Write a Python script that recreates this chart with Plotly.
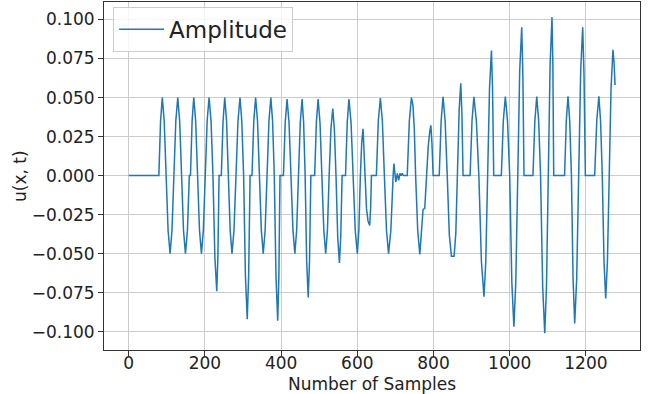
import plotly.graph_objects as go

# Points: sample index and amplitude u(x, t)
samples = [
    0, 79, 83.5, 88, 93, 98, 103.2, 108.5, 113.5, 118.5, 123.5, 128.6, 133.6, 138.7,
    143.7, 148.8, 154, 159, 162, 166.3, 170.6, 175.6, 180.7, 185.7, 190.8, 195.8,
    200.8, 205.8, 210.8, 216, 221, 226, 231, 234, 237, 243, 247.5, 252, 256.7,
    261.5, 266.2, 271, 276.2, 281.5, 286.7, 292, 296.7, 301.5, 306.2, 311, 314.7,
    318.5, 323.5, 328.2, 333, 338, 343, 348, 353, 358, 363, 368, 373, 377.5, 382,
    386.5, 391, 394, 397, 406, 410.7, 415.5, 420.7, 426, 431, 436, 440.7, 445.5,
    450.2, 455, 459, 463, 467, 471, 474.5, 478, 488, 492.5, 497, 502, 507, 512,
    517, 521.5, 526, 530.7, 535.5, 539.7, 544, 548.5, 553, 556.5, 560, 569, 573.5,
    578, 583.5, 589, 594.5, 600, 604, 608, 611.5, 615, 619.5, 624, 628, 632.5, 635,
    637, 650, 655, 660.5, 665.7, 671, 676.5, 682, 688, 694, 696, 701, 705, 708.5,
    712, 715, 718, 721, 731, 736.5, 742, 746, 749.5, 753, 758.5, 764, 768, 772.5,
    777, 781, 786, 790, 793, 796, 799, 815, 820, 825, 830.5, 836, 841.5, 847, 854,
    858.5, 863, 867.3, 871.5, 874.5, 877.5, 896, 901, 906, 912.5, 919, 925.7,
    932.5, 937.2, 942, 947, 952, 955, 958, 978, 983.2, 988.5, 994.2, 1000, 1005.5,
    1011, 1016, 1021, 1026.2, 1031.5, 1034.5, 1037.5, 1061, 1066, 1071, 1076, 1081,
    1086.5, 1092, 1096.5, 1101, 1106, 1111, 1113.3, 1115.5, 1144, 1148.5, 1153,
    1157.5, 1162, 1166.3, 1170.6, 1175.8, 1181, 1186.3, 1191.6, 1195, 1198.6, 1223,
    1228.5, 1234, 1238.5, 1243, 1247.5, 1252, 1256.5, 1261, 1266, 1271, 1274, 1276.5,
]
amplitude = [
    0, 0, 0.035, 0.05, 0.035, 0, -0.035, -0.05, -0.035, 0, 0.035, 0.05, 0.035, 0,
    -0.035, -0.05, -0.035, 0, 0, 0.035, 0.05, 0.035, 0, -0.035, -0.05, -0.035,
    0, 0.035, 0.05, 0.035, 0, -0.052, -0.074, -0.052, 0, 0, 0.035, 0.05, 0.035,
    0, -0.035, -0.05, -0.035, 0, 0.035, 0.05, 0.035, 0, -0.064, -0.092, -0.064,
    0, 0, 0.035, 0.05, 0.035, 0, -0.035, -0.05, -0.035, 0, 0.035, 0.05, 0.035, 0,
    -0.065, -0.093, -0.065, 0, 0, 0.034, 0.049, 0.034, 0, -0.035, -0.05, -0.035, 0,
    0.034, 0.049, 0.034, 0, -0.055, -0.078, -0.055, 0, 0, 0.034, 0.049, 0.034, 0, -0.035,
    -0.05, -0.035, 0, 0.03, 0.043, 0.03, 0, -0.039, -0.056, -0.039, 0, 0, 0.034,
    0.049, 0.034, 0, -0.035, -0.05, -0.035, 0, 0.021, 0.030, 0.008, -0.021, -0.029, -0.032, -0.02,
    0, 0, 0.035, 0.0496, 0.035, 0, -0.035, -0.050, -0.035, 0, 0.0077, -0.004, 0.0015, -0.003,
    0.0015, 0, 0.0015, 0, 0, 0.035, 0.05, 0.045, 0.03, 0, -0.035, -0.0505, -0.038, -0.0217,
    -0.021, -0.002, 0.0184, 0.028, 0.0322, 0.02, 0, 0, 0.035, 0.0505, 0.035, 0, -0.038, -0.0516, -0.0516,
    -0.037, 0, 0.042, 0.0592, 0.04, 0, 0, 0.035, 0.0505, 0.035, 0, -0.055,
    -0.0776, -0.055, 0, 0.056, 0.0801, 0.055, 0, 0, 0.035, 0.0506, 0.035, 0, -0.068,
    -0.0968, -0.068, 0, 0.067, 0.095, 0.065, 0, 0, 0.035, 0.0507, 0.035, 0,
    -0.071, -0.101, -0.071, 0, 0.071, 0.1015, 0.07, 0, 0, 0.035, 0.0508,
    0.035, 0, -0.066, -0.0947, -0.066, 0, 0.067, 0.095, 0.065, 0, 0,
    0.035, 0.0508, 0.035, 0, -0.055, -0.0787, -0.055, 0, 0.056, 0.0806, 0.072, 0.058,
]
assert len(samples) == len(amplitude)

x_ticks = [0, 200, 400, 600, 800, 1000, 1200]
y_ticks = [-0.1, -0.075, -0.05, -0.025, 0.0, 0.025, 0.05, 0.075, 0.1]

fig = go.Figure()
fig.add_trace(go.Scatter(
    x=samples, y=amplitude, mode="lines", name="Amplitude",
    line=dict(color="#1f77b4", width=1.5),
))

axis_common = dict(
    showgrid=True, gridcolor="#cccccc", gridwidth=1,
    showline=True, linecolor="#333333", linewidth=1, mirror=True,
    ticks="outside", ticklen=5, tickcolor="#333333",
    zeroline=False, automargin=False,
    tickfont=dict(size=17, color="#222222"),
)

fig.update_layout(
    width=652, height=394,
    margin=dict(l=104, r=12, t=2, b=44),
    paper_bgcolor="white", plot_bgcolor="white",
    font=dict(family="DejaVu Sans", size=17, color="#222222"),
    showlegend=True,
    legend=dict(x=0.017, y=0.986, xanchor="left", yanchor="top",
                bgcolor="rgba(255,255,255,0.8)", bordercolor="#cccccc", borderwidth=1,
                itemwidth=45, font=dict(size=23)),
    xaxis=dict(range=[-65, 1342], tickvals=x_ticks, ticklabelstandoff=-7,
               **axis_common),
    yaxis=dict(range=[-0.1117, 0.1112], tickvals=y_ticks, tickformat=".3f",
               **axis_common),
    annotations=[
        dict(text="u(x, t)", textangle=-90, xref="paper", yref="paper",
             x=0, y=0.5, xanchor="center", yanchor="middle", xshift=-84,
             showarrow=False, font=dict(size=17, color="#222222")),
        dict(text="Number of Samples", xref="paper", yref="paper",
             x=0.5, y=0, xanchor="center", yanchor="middle", yshift=-34,
             showarrow=False, font=dict(size=17, color="#222222")),
    ],
)

fig.write_html("out.html", config={"displayModeBar": False},
               post_script="document.body.style.margin='0';")
